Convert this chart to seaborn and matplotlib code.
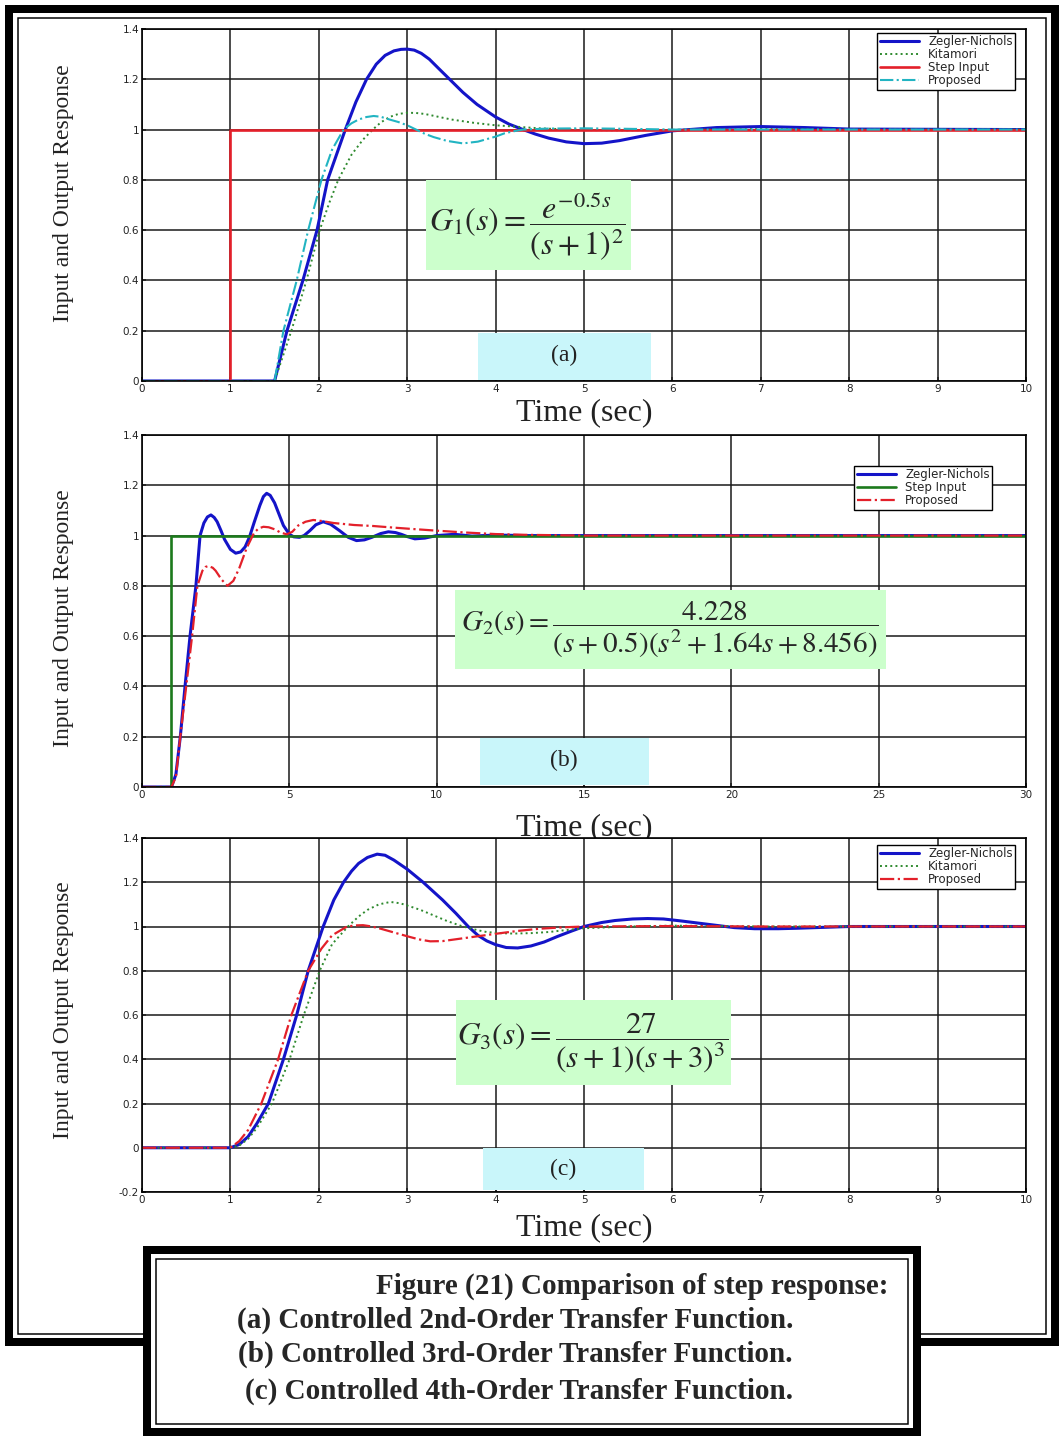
import matplotlib
matplotlib.use("Agg")
import matplotlib.pyplot as plt
from matplotlib.patches import Rectangle
import numpy as np
import pandas as pd
import seaborn as sns

# ---------------- data ----------------
# Panel (a): G1(s) = e^{-0.5s}/(s+1)^2
t_zn_a = [0, 1.5, 1.64, 1.82, 1.98, 2.1, 2.2, 2.3, 2.42, 2.54, 2.65, 2.75, 2.85, 2.93, 3.0, 3.08, 3.16, 3.25, 3.35, 3.48, 3.63, 3.79, 4.0, 4.15, 4.31, 4.45, 4.6, 4.8, 5.0, 5.2, 5.4, 5.7, 6.0, 6.5, 7.0, 7.5, 8.0, 10]
y_zn_a = [0, 0, 0.2, 0.4, 0.6, 0.8, 0.9, 1.0, 1.11, 1.2, 1.26, 1.295, 1.313, 1.319, 1.32, 1.316, 1.303, 1.28, 1.245, 1.2, 1.148, 1.1, 1.05, 1.022, 1.0, 0.982, 0.966, 0.951, 0.944, 0.946, 0.956, 0.977, 0.995, 1.008, 1.012, 1.008, 1.002, 1.0]
t_ki_a = [0, 1.5, 1.69, 1.86, 2.01, 2.12, 2.22, 2.37, 2.5, 2.61, 2.7, 2.8, 2.9, 3.0, 3.1, 3.2, 3.5, 3.75, 4.0, 4.5, 5.0, 5.5, 6.0, 7.0, 8.0, 10]
y_ki_a = [0, 0, 0.2, 0.4, 0.6, 0.71, 0.8, 0.9, 0.96, 1.0, 1.028, 1.05, 1.062, 1.067, 1.066, 1.062, 1.04, 1.027, 1.017, 1.005, 0.998, 0.997, 0.999, 1.002, 1.0, 1.0]
t_pr_a = [0, 1.5, 1.6, 1.75, 1.88, 2.03, 2.15, 2.28, 2.37, 2.45, 2.54, 2.62, 2.7, 2.8, 2.9, 3.0, 3.1, 3.2, 3.3, 3.45, 3.63, 3.8, 3.9, 4.0, 4.1, 4.2, 4.31, 4.6, 5.0, 5.5, 6.0, 7.0, 10]
y_pr_a = [0, 0, 0.2, 0.4, 0.6, 0.8, 0.92, 1.0, 1.025, 1.04, 1.05, 1.054, 1.051, 1.04, 1.03, 1.017, 1.0, 0.983, 0.97, 0.955, 0.945, 0.952, 0.962, 0.972, 0.985, 0.993, 1.0, 1.004, 1.005, 1.003, 1.0, 1.0, 1.0]
t_st_a = [0, 1, 1, 10]
y_st_a = [0, 0, 1, 1]

# Panel (b): G2(s) = 4.228/((s+0.5)(s^2+1.64s+8.456))
t_zn_b = [0, 1.0, 1.15, 1.3, 1.46, 1.63, 1.83, 1.97, 2.1, 2.22, 2.34, 2.45, 2.55, 2.68, 2.8, 3.0, 3.18, 3.35, 3.5, 3.65, 3.8, 4.0, 4.12, 4.23, 4.35, 4.5, 4.65, 4.8, 5.0, 5.15, 5.34, 5.5, 5.7, 5.9, 6.15, 6.4, 6.7, 7.0, 7.28, 7.55, 7.8, 8.1, 8.36, 8.6, 8.8, 9.0, 9.26, 9.6, 10.0, 10.6, 11.2, 12, 13, 15, 30]
y_zn_b = [0, 0, 0.05, 0.2, 0.4, 0.6, 0.8, 1.0, 1.05, 1.074, 1.082, 1.072, 1.055, 1.02, 0.985, 0.945, 0.93, 0.935, 0.955, 0.995, 1.05, 1.12, 1.155, 1.168, 1.16, 1.13, 1.085, 1.04, 1.005, 0.995, 0.993, 1.0, 1.02, 1.043, 1.055, 1.045, 1.02, 0.993, 0.98, 0.983, 0.993, 1.008, 1.015, 1.012, 1.005, 0.996, 0.987, 0.99, 1.0, 1.005, 0.998, 1.002, 1.0, 1.0, 1.0]
t_pr_b = [0, 1.0, 1.15, 1.3, 1.5, 1.7, 1.88, 2.05, 2.15, 2.25, 2.4, 2.5, 2.7, 2.9, 3.1, 3.3, 3.55, 3.8, 3.95, 4.12, 4.3, 4.5, 4.7, 4.91, 5.1, 5.3, 5.55, 5.81, 6.1, 6.5, 7.2, 7.85, 8.5, 9.2, 9.94, 11, 12, 13, 15, 30]
y_pr_b = [0, 0, 0.04, 0.2, 0.4, 0.6, 0.8, 0.86, 0.875, 0.879, 0.872, 0.86, 0.825, 0.80, 0.82, 0.87, 0.95, 1.01, 1.028, 1.035, 1.033, 1.025, 1.012, 1.005, 1.015, 1.04, 1.055, 1.062, 1.058, 1.05, 1.042, 1.038, 1.032, 1.026, 1.02, 1.012, 1.006, 1.003, 1.0, 1.0]
t_st_b = [0, 1, 1, 30]
y_st_b = [0, 0, 1, 1]

# Panel (c): G3(s) = 27/((s+1)(s+3)^3)
t_zn_c = [0, 1.0, 1.1, 1.2, 1.3, 1.43, 1.6, 1.75, 1.88, 2.05, 2.17, 2.28, 2.37, 2.45, 2.55, 2.66, 2.75, 2.85, 3.0, 3.18, 3.4, 3.55, 3.69, 3.8, 3.9, 4.0, 4.12, 4.25, 4.4, 4.55, 4.7, 4.85, 5.0, 5.2, 5.35, 5.55, 5.72, 5.9, 6.1, 6.3, 6.5, 6.7, 6.93, 7.2, 7.4, 8.0, 10]
y_zn_c = [0, 0, 0.015, 0.05, 0.11, 0.2, 0.4, 0.6, 0.8, 1.0, 1.12, 1.2, 1.25, 1.285, 1.312, 1.327, 1.322, 1.3, 1.259, 1.2, 1.12, 1.06, 1.0, 0.96, 0.935, 0.918, 0.905, 0.903, 0.912, 0.93, 0.955, 0.978, 1.0, 1.018, 1.027, 1.034, 1.036, 1.034, 1.025, 1.015, 1.005, 0.995, 0.99, 0.99, 0.992, 1.0, 1.0]
t_ki_c = [0, 1.0, 1.1, 1.2, 1.3, 1.47, 1.67, 1.83, 2.01, 2.15, 2.33, 2.45, 2.55, 2.68, 2.81, 2.92, 3.0, 3.15, 3.3, 3.45, 3.63, 3.8, 3.9, 4.05, 4.2, 4.4, 4.6, 4.8, 5.0, 5.5, 6.0, 7.0, 8.0, 10]
y_ki_c = [0, 0, 0.01, 0.04, 0.09, 0.2, 0.4, 0.6, 0.8, 0.92, 1.0, 1.045, 1.075, 1.1, 1.111, 1.105, 1.095, 1.075, 1.05, 1.025, 1.0, 0.983, 0.975, 0.97, 0.968, 0.97, 0.975, 0.984, 0.992, 1.0, 1.004, 1.0, 1.0, 1.0]
t_pr_c = [0, 1.0, 1.1, 1.2, 1.35, 1.54, 1.69, 1.88, 2.03, 2.15, 2.32, 2.42, 2.5, 2.6, 2.7, 2.85, 3.0, 3.13, 3.26, 3.4, 3.6, 3.8, 4.0, 4.25, 4.5, 4.75, 5.0, 6.0, 7.0, 8.0, 10]
y_pr_c = [0, 0, 0.03, 0.08, 0.2, 0.4, 0.6, 0.8, 0.9, 0.96, 1.0, 1.005, 1.006, 1.0, 0.99, 0.973, 0.956, 0.942, 0.933, 0.934, 0.945, 0.956, 0.967, 0.98, 0.99, 0.996, 1.0, 1.002, 1.0, 1.0, 1.0]

# ticks
xticks_ac = list(range(0, 11))
xticks_b = [0, 5, 10, 15, 20, 25, 30]
yticks_ab = [0, 0.2, 0.4, 0.6, 0.8, 1.0, 1.2, 1.4]
ylabels_ab = ["0", "0.2", "0.4", "0.6", "0.8", "1", "1.2", "1.4"]
yticks_c = [-0.2, 0, 0.2, 0.4, 0.6, 0.8, 1.0, 1.2, 1.4]
ylabels_c = ["-0.2", "0", "0.2", "0.4", "0.6", "0.8", "1", "1.2", "1.4"]

# text
ylabel_txt = "Input and Output Response"
xlabel_txt = "Time (sec)"
formula_a = r"$G_1(s) = \dfrac{e^{-0.5s}}{(s+1)^2}$"
formula_b = r"$G_2(s) = \dfrac{4.228}{(s+0.5)(s^2+1.64s+8.456)}$"
formula_c = r"$G_3(s) = \dfrac{27}{(s+1)(s+3)^3}$"
caption = ["Figure (21) Comparison of step response:",
           "(a) Controlled 2nd-Order Transfer Function.",
           "(b) Controlled 3rd-Order Transfer Function.",
           "(c) Controlled 4th-Order Transfer Function."]

# ---------------- style ----------------
sns.set_theme(style="white")
plt.rcParams["font.family"] = ["DejaVu Sans"]
plt.rcParams["mathtext.fontset"] = "stix"

W, H = 1061, 1436
fig = plt.figure(figsize=(W / 100, H / 100), dpi=100)
fig.patch.set_facecolor("white")

BLUE = "#1414c8"
GREEN_DOT = "#2f8a2f"
RED = "#e3202a"
STEP_GREEN = "#1c7a1c"
CYAN = "#22b4c2"
SERIF = ["Liberation Serif", "DejaVu Serif"]


def fx(x):
    return x / W


def fy(y):
    return 1 - y / H


def make_ax(top, bottom):
    return fig.add_axes([fx(142), fy(bottom), 884 / W, (bottom - top) / H])


def line(ax, t, y, color, ls, lw, label):
    df = pd.DataFrame({"t": t, "y": y})
    sns.lineplot(data=df, x="t", y="y", ax=ax, color=color, linestyle=ls,
                 linewidth=lw, label=label, estimator=None, sort=False)


def style_ax(ax, xlim, ylim, xt, yt, ytl, xlab_y, ylab_x, ylab_y):
    ax.set_xlim(*xlim)
    ax.set_ylim(*ylim)
    ax.set_xticks(xt)
    ax.set_xticklabels([str(v) for v in xt])
    ax.set_yticks(yt)
    ax.set_yticklabels(ytl)
    ax.grid(True, color="#1a1a1a", linewidth=1.1)
    ax.set_axisbelow(True)
    ax.tick_params(direction="in", length=3, labelsize=7.5, pad=2,
                   bottom=True, left=True, colors="#222222")
    for s in ax.spines.values():
        s.set_color("black")
        s.set_linewidth(1.2)
    ax.set_xlabel(xlabel_txt, fontsize=23, family=SERIF, color="#222222")
    ax.xaxis.set_label_coords(0.5, xlab_y)
    ax.xaxis.label.set_va("center")
    ax.set_ylabel(ylabel_txt, fontsize=17, family=SERIF, color="#222222")
    ax.yaxis.set_label_coords(ylab_x, ylab_y)
    ax.yaxis.label.set_va("center")


def legend(ax, anchor):
    leg = ax.legend(loc="upper right", bbox_to_anchor=anchor, fontsize=8.5,
                    frameon=True, fancybox=False, edgecolor="black",
                    framealpha=1, borderpad=0.2, labelspacing=0.0,
                    handlelength=3.3, handletextpad=0.8, borderaxespad=0)
    leg.get_frame().set_linewidth(1.0)


def box(x0, y0, x1, y1, color):
    fig.add_artist(Rectangle((fx(x0), fy(y1)), (x1 - x0) / W, (y1 - y0) / H,
                             transform=fig.transFigure, facecolor=color,
                             edgecolor="none", zorder=3))


# ---------------- panel (a) ----------------
ax_a = make_ax(29, 381)
line(ax_a, t_zn_a, y_zn_a, BLUE, "-", 2.2, "Zegler-Nichols")
line(ax_a, t_ki_a, y_ki_a, GREEN_DOT, ":", 1.4, "Kitamori")
line(ax_a, t_st_a, y_st_a, RED, "-", 1.9, "Step Input")
line(ax_a, t_pr_a, y_pr_a, CYAN, "-.", 1.5, "Proposed")
style_ax(ax_a, (0, 10), (0, 1.4), xticks_ac, yticks_ab, ylabels_ab,
         (381 - 413) / 352, (63 - 142) / 884, (381 - 193) / 352)
legend(ax_a, ((1015 - 142) / 884, (381 - 33) / 352))

# ---------------- panel (b) ----------------
ax_b = make_ax(435, 787)
line(ax_b, t_zn_b, y_zn_b, BLUE, "-", 2.2, "Zegler-Nichols")
line(ax_b, t_st_b, y_st_b, STEP_GREEN, "-", 1.9, "Step Input")
line(ax_b, t_pr_b, y_pr_b, RED, "-.", 1.6, "Proposed")
style_ax(ax_b, (0, 30), (0, 1.4), xticks_b, yticks_ab, ylabels_ab,
         (787 - 828) / 352, (63 - 142) / 884, (787 - 618) / 352)
legend(ax_b, ((992 - 142) / 884, (787 - 466) / 352))

# ---------------- panel (c) ----------------
ax_c = make_ax(838, 1192)
line(ax_c, t_zn_c, y_zn_c, BLUE, "-", 2.2, "Zegler-Nichols")
line(ax_c, t_ki_c, y_ki_c, GREEN_DOT, ":", 1.4, "Kitamori")
line(ax_c, t_pr_c, y_pr_c, RED, "-.", 1.6, "Proposed")
style_ax(ax_c, (0, 10), (-0.2, 1.4), xticks_ac, yticks_c, ylabels_c,
         (1192 - 1228) / 354, (63 - 142) / 884, (1192 - 1010) / 354)
legend(ax_c, ((1015 - 142) / 884, (1192 - 845) / 354))

# ---------------- formula and label boxes ----------------
GREEN_BOX = "#ccffcc"
CYAN_BOX = "#c9f6fa"
box(426, 180, 631, 270, GREEN_BOX)
fig.text(fx(527), fy(226), formula_a, fontsize=23, ha="center", va="center", zorder=4)
box(455, 590, 886, 669, GREEN_BOX)
fig.text(fx(670), fy(630), formula_b, fontsize=21, ha="center", va="center", zorder=4)
box(456, 1000, 731, 1085, GREEN_BOX)
fig.text(fx(593), fy(1043), formula_c, fontsize=22.5, ha="center", va="center", zorder=4)

box(478, 333, 651, 380, CYAN_BOX)
fig.text(fx(564), fy(355), "(a)", fontsize=17, family=SERIF, ha="center", va="center", zorder=4, color="#222222")
box(480, 738, 649, 785, CYAN_BOX)
fig.text(fx(564), fy(760), "(b)", fontsize=17, family=SERIF, ha="center", va="center", zorder=4, color="#222222")
box(483, 1148, 644, 1190, CYAN_BOX)
fig.text(fx(563), fy(1169), "(c)", fontsize=17, family=SERIF, ha="center", va="center", zorder=4, color="#222222")

# ---------------- outer frame ----------------
def frame(x0, y0, x1, y1, lw_px, z, fill=False):
    fig.add_artist(Rectangle((fx(x0), fy(y1)), (x1 - x0) / W, (y1 - y0) / H,
                             transform=fig.transFigure,
                             facecolor="white" if fill else "none",
                             edgecolor="black", linewidth=lw_px * 0.72,
                             zorder=z))

frame(9, 9, 1055, 1342, 8, 5)
frame(18, 18, 1046, 1334, 1.5, 5)

# caption box
frame(147, 1250, 917, 1432, 8, 6, fill=True)
frame(156, 1259, 908, 1424, 1.5, 7)

fig.text(fx(888), fy(1286), caption[0], fontsize=21, family=SERIF,
         weight="bold", ha="right", va="center", zorder=8)
for txt, yy in zip(caption[1:], [1320, 1354, 1391]):
    fig.text(fx(793), fy(yy), txt, fontsize=21, family=SERIF,
             weight="bold", ha="right", va="center", zorder=8)

fig.savefig("out.png", dpi=100, facecolor="white")
